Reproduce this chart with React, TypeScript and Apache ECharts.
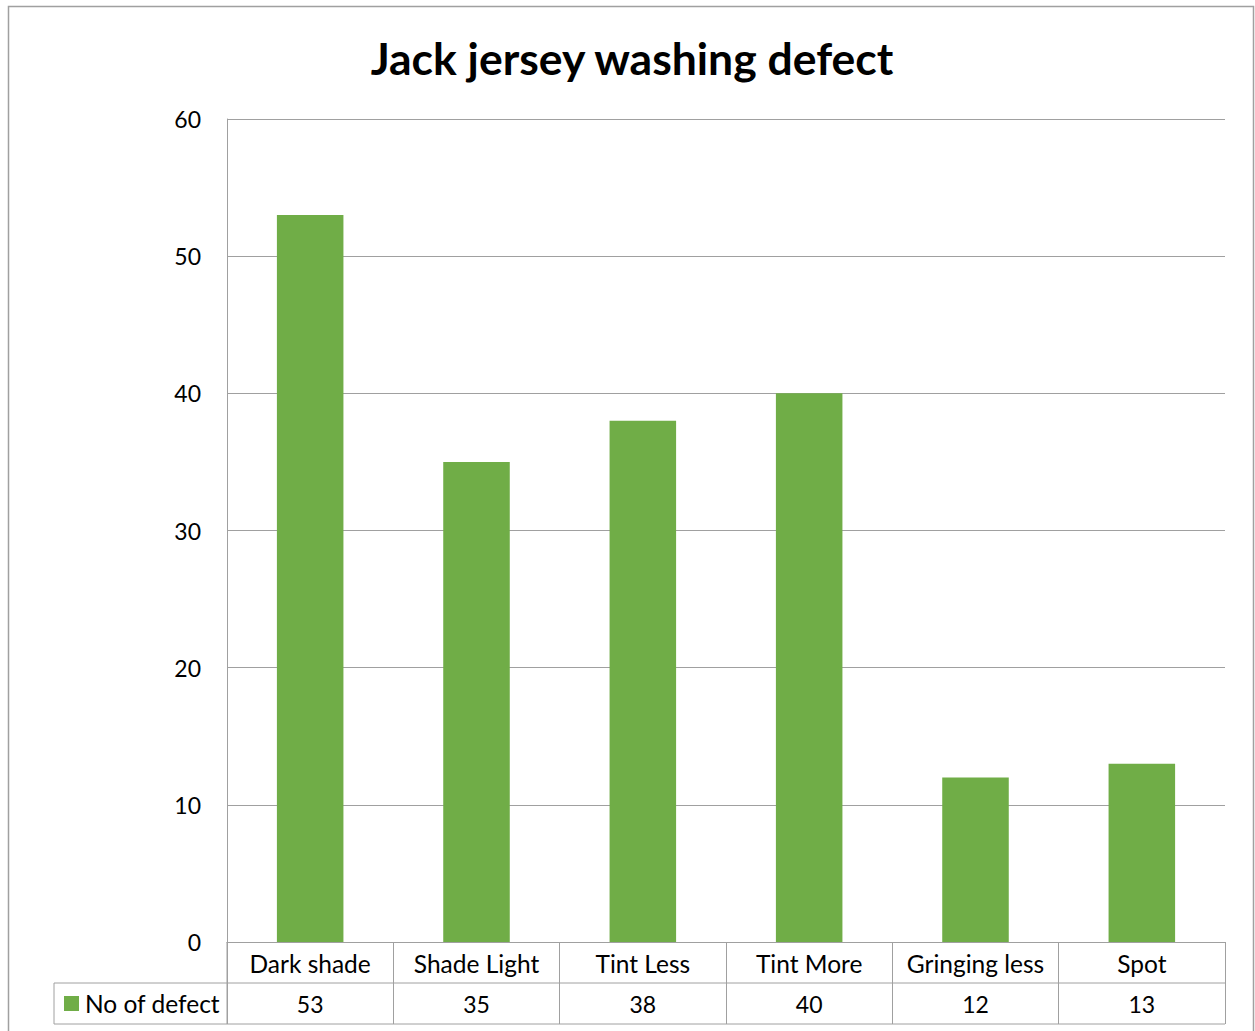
import React, { useEffect, useRef } from "react";
import * as echarts from "echarts";

const categories = ["Dark shade", "Shade Light", "Tint Less", "Tint More", "Gringing less", "Spot"];
const seriesName = "No of defect";
const defectCounts = [53, 35, 38, 40, 12, 13];
const titleText = "Jack jersey washing defect";

const FONT = "Lato, 'Open Sans', 'Noto Sans', sans-serif";
const GRID_COLOR = "#A0A0A0";
const BAR_COLOR = "#70AD47";

export default function App() {
  const ref = useRef<HTMLDivElement>(null);
  useEffect(() => {
    if (!ref.current) return;
    const chart = echarts.init(ref.current, null, { renderer: "svg" });
    chart.setOption({
      animation: false,
      backgroundColor: "#ffffff",
      title: {
        text: titleText,
        left: 627,
        top: 30,
        textAlign: "center",
        textStyle: { fontFamily: FONT, fontSize: 44.5, fontWeight: "bold", color: "#000" },
      },
      legend: {
        data: [seriesName],
        left: 64,
        top: 991,
        itemWidth: 15,
        itemHeight: 15,
        icon: "rect",
        padding: 0,
        textStyle: { fontFamily: FONT, fontSize: 24.5, color: "#000", padding: [0, 0, 0, 1] },
      },
      grid: { left: 227, right: 30, top: 119, bottom: 89, containLabel: false },
      xAxis: [
        {
          type: "category",
          data: categories,
          position: "bottom",
          axisLine: { show: true, lineStyle: { color: GRID_COLOR, width: 1 } },
          axisTick: { show: true, length: 82, lineStyle: { color: GRID_COLOR } },
          axisLabel: { fontFamily: FONT, fontSize: 24.5, color: "#000", margin: 9, interval: 0 },
        },
        {
          type: "category",
          data: defectCounts.map(String),
          position: "bottom",
          offset: 41,
          axisLine: { show: false },
          axisTick: { show: false },
          axisLabel: { fontFamily: FONT, fontSize: 23, color: "#000", margin: 9, interval: 0 },
        },
      ],
      yAxis: {
        type: "value",
        min: 0,
        max: 60,
        interval: 10,
        axisLine: { show: true, lineStyle: { color: GRID_COLOR } },
        axisTick: { show: false },
        axisLabel: { fontFamily: FONT, fontSize: 23, color: "#000", margin: 26 },
        splitLine: { show: true, lineStyle: { color: GRID_COLOR, width: 1 } },
      },
      series: [
        {
          name: seriesName,
          type: "bar",
          data: defectCounts,
          barWidth: "40%",
          itemStyle: { color: BAR_COLOR },
        },
      ],
      graphic: [
        {
          type: "rect",
          shape: { x: 8.5, y: 6.5, width: 1245, height: 1060 },
          style: { fill: "none", stroke: GRID_COLOR, lineWidth: 1.5 },
          silent: true,
        },
        {
          type: "line",
          shape: { x1: 54, y1: 983, x2: 1225, y2: 983 },
          style: { stroke: GRID_COLOR, lineWidth: 1 },
          silent: true,
        },
        {
          type: "line",
          shape: { x1: 54, y1: 1024, x2: 1225, y2: 1024 },
          style: { stroke: GRID_COLOR, lineWidth: 1 },
          silent: true,
        },
        {
          type: "line",
          shape: { x1: 54, y1: 983, x2: 54, y2: 1024 },
          style: { stroke: GRID_COLOR, lineWidth: 1 },
          silent: true,
        },
        {
          type: "line",
          shape: { x1: 227, y1: 942, x2: 227, y2: 1024 },
          style: { stroke: GRID_COLOR, lineWidth: 1 },
          silent: true,
        },
      ],
    });
    return () => chart.dispose();
  }, []);
  return (
    <div
      ref={ref}
      style={{ position: "fixed", left: 0, top: 0, width: 1255, height: 1031 }}
    />
  );
}
